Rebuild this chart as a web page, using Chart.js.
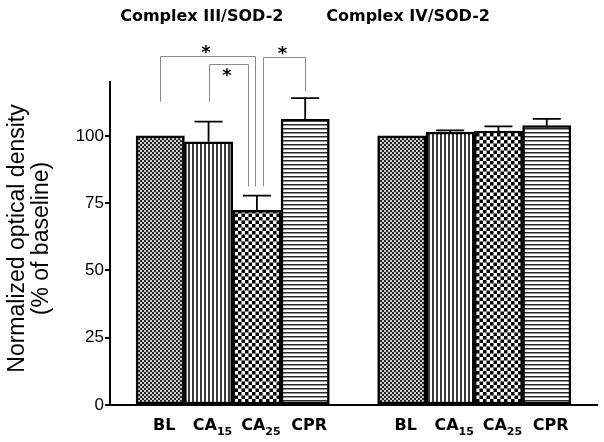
<!DOCTYPE html>
<html><head><meta charset="utf-8">
<script src="https://cdn.jsdelivr.net/npm/chart.js@4.4.0/dist/chart.umd.min.js"></script>
<style>html,body{margin:0;padding:0;background:#fff;}canvas{display:block;}</style>
</head><body>
<canvas id="c" width="604" height="442"></canvas>
<script>
// ---- data ----
const groupTitles = ['Complex III/SOD-2', 'Complex IV/SOD-2'];
const catNames = ['BL', 'CA', 'CA', 'CPR'];
const catSubs = ['', '15', '25', ''];
const complexIII = [100, 97.8, 72.3, 106.1];
const complexIIIErr = [0, 7.5, 5.5, 7.9];
const complexIV = [100, 101.4, 101.8, 103.8];
const complexIVErr = [0, 0.6, 1.7, 2.5];
const yTicks = [0, 25, 50, 75, 100];
const yAxisTitle = ['Normalized optical density', '(% of baseline)'];
const sigPairs = [[0, 2], [1, 2], [2, 3]]; // significant comparisons in Complex III
const sigMark = '*';

// ---- annotation geometry (in data units) ----
const bracketLayout = [
  { top: 129.5, leftEnd: 112.6, rightEnd: 81.2, leftShift: 0, rightShift: -0.03, starAbove: true },
  { top: 126.6, leftEnd: 112.6, rightEnd: 81.2, leftShift: 0, rightShift: -0.19, starAbove: false },
  { top: 129.4, leftEnd: 81.2, rightEnd: 116.5, leftShift: 0.12, rightShift: 0, starAbove: true }
];
const titleCenters = [0.86, 5.13]; // x position (data units) of each group title

const GROUP_STRIDE = 5;
const values = [...complexIII, ...complexIV];
const errors = [...complexIIIErr, ...complexIVErr];
const xs = [];
[complexIII, complexIV].forEach((arr, g) => arr.forEach((_, i) => xs.push(g * GROUP_STRIDE + i)));

const cv = document.getElementById('c');
const ctx = cv.getContext('2d');

function makePattern(kind) {
  const c = document.createElement('canvas');
  const x = c.getContext('2d');
  if (kind === 'fine') {
    c.width = c.height = 4;
    x.fillStyle = '#d0d0d0'; x.fillRect(0, 0, 4, 4);
    x.fillStyle = '#222'; x.fillRect(0, 0, 2, 2); x.fillRect(2, 2, 2, 2);
  } else if (kind === 'vert') {
    c.width = 4; c.height = 4;
    x.fillStyle = '#fff'; x.fillRect(0, 0, 4, 4);
    x.fillStyle = '#3a3a3a'; x.fillRect(0, 0, 2, 4);
  } else if (kind === 'check') {
    c.width = c.height = 7;
    x.fillStyle = '#fff'; x.fillRect(0, 0, 7, 7);
    x.fillStyle = '#000'; x.fillRect(0, 0, 3.5, 3.5); x.fillRect(3.5, 3.5, 3.5, 3.5);
  } else {
    c.width = 4; c.height = 4;
    x.fillStyle = '#fff'; x.fillRect(0, 0, 4, 4);
    x.fillStyle = '#2a2a2a'; x.fillRect(0, 0, 4, 1.5);
  }
  return ctx.createPattern(c, 'repeat');
}
const pats = [makePattern('fine'), makePattern('vert'), makePattern('check'), makePattern('horiz')];
const bg = xs.map((_, k) => pats[k % 4]);

const annotPlugin = {
  id: 'annot',
  afterDatasetsDraw(chart) {
    const c = chart.ctx;
    const xS = chart.scales.x, yS = chart.scales.y;
    const meta = chart.getDatasetMeta(0);
    // error bars
    c.save();
    c.strokeStyle = '#000';
    c.lineWidth = 1.8;
    meta.data.forEach((el, k) => {
      if (!errors[k]) return;
      const yTop = yS.getPixelForValue(values[k] + errors[k]);
      const half = el.width * 0.29;
      c.beginPath();
      c.moveTo(el.x, el.y); c.lineTo(el.x, yTop);
      c.moveTo(el.x - half, yTop); c.lineTo(el.x + half, yTop);
      c.stroke();
    });
    c.restore();

    // significance brackets
    c.save();
    c.strokeStyle = '#8a8a8a';
    c.lineWidth = 1;
    c.fillStyle = '#000';
    c.font = 'bold 18px "DejaVu Sans"';
    c.textAlign = 'center';
    c.textBaseline = 'alphabetic';
    const m = c.measureText(sigMark);
    const starMid = (m.actualBoundingBoxAscent - m.actualBoundingBoxDescent) / 2;
    sigPairs.forEach((p, j) => {
      const b = bracketLayout[j];
      const x1 = Math.round(xS.getPixelForValue(xs[p[0]] + b.leftShift)) + 0.5;
      const x2 = Math.round(xS.getPixelForValue(xs[p[1]] + b.rightShift)) + 0.5;
      const yt = Math.round(yS.getPixelForValue(b.top)) + 0.5;
      const y1 = yS.getPixelForValue(b.leftEnd);
      const y2 = yS.getPixelForValue(b.rightEnd);
      c.beginPath();
      c.moveTo(x1, y1); c.lineTo(x1, yt); c.lineTo(x2, yt); c.lineTo(x2, y2);
      c.stroke();
      const cy = b.starAbove ? yt - 7 : yt + 8;
      c.fillText(sigMark, (x1 + x2) / 2 - 2, cy + starMid);
    });
    c.restore();

    // x category labels with subscripts
    c.save();
    c.fillStyle = '#000';
    c.textBaseline = 'alphabetic';
    const base = chart.chartArea.bottom + 25;
    xs.forEach((xv, k) => {
      const name = catNames[k % 4], sub = catSubs[k % 4];
      c.font = 'bold 16px "DejaVu Sans"';
      const w1 = c.measureText(name).width;
      c.font = 'bold 11px "DejaVu Sans"';
      const w2 = sub ? c.measureText(sub).width : 0;
      const cx = xS.getPixelForValue(xv) + 4;
      let x0 = cx - (w1 + w2) / 2;
      c.textAlign = 'left';
      c.font = 'bold 16px "DejaVu Sans"';
      c.fillText(name, x0, base);
      if (sub) {
        c.font = 'bold 11px "DejaVu Sans"';
        c.fillText(sub, x0 + w1, base + 5);
      }
    });
    c.restore();

    // group titles
    c.save();
    c.fillStyle = '#000';
    c.font = 'bold 16px "DejaVu Sans"';
    c.textAlign = 'center';
    c.textBaseline = 'alphabetic';
    groupTitles.forEach((t, g) => {
      c.fillText(t, xS.getPixelForValue(titleCenters[g]), 21);
    });
    c.restore();

    // y-axis title (two lines, rotated)
    c.save();
    c.fillStyle = '#000';
    c.font = '23px "Liberation Sans", Arial';
    c.textAlign = 'center';
    c.textBaseline = 'middle';
    const midY = (chart.chartArea.top + chart.chartArea.bottom) / 2 - 5;
    [18, 42].forEach((lx, i) => {
      c.save();
      c.translate(lx, midY);
      c.rotate(-Math.PI / 2);
      c.fillText(yAxisTitle[i], 0, 0);
      c.restore();
    });
    c.restore();
  }
};

new Chart(cv, {
  type: 'bar',
  data: {
    datasets: [{
      data: xs.map((x, k) => ({ x: x, y: values[k] })),
      backgroundColor: bg,
      borderColor: '#000',
      borderWidth: 2.5,
      borderSkipped: false,
      barPercentage: 1,
      categoryPercentage: 1
    }]
  },
  options: {
    responsive: false,
    animation: false,
    events: [],
    layout: { padding: { top: 82, right: 7, left: 0, bottom: 0 } },
    plugins: { legend: { display: false }, tooltip: { enabled: false } },
    scales: {
      x: {
        type: 'linear',
        offset: false,
        min: -1.04,
        max: 9.04,
        grid: { display: false, offset: false },
        ticks: { display: false },
        border: { display: true, color: '#000', width: 2 },
        afterFit(s) { s.height = 37; }
      },
      y: {
        min: 0,
        max: 120,
        afterBuildTicks(s) { s.ticks = yTicks.map(v => ({ value: v })); },
        grid: { drawOnChartArea: false, drawTicks: true, tickLength: 5, color: '#000', lineWidth: 2 },
        border: { display: true, color: '#000', width: 2 },
        ticks: { color: '#000', padding: 1, font: { family: '"Liberation Sans", Arial', size: 17 } },
        afterFit(s) { s.width = 110; }
      }
    }
  },
  plugins: [annotPlugin]
});
</script>
</body></html>
